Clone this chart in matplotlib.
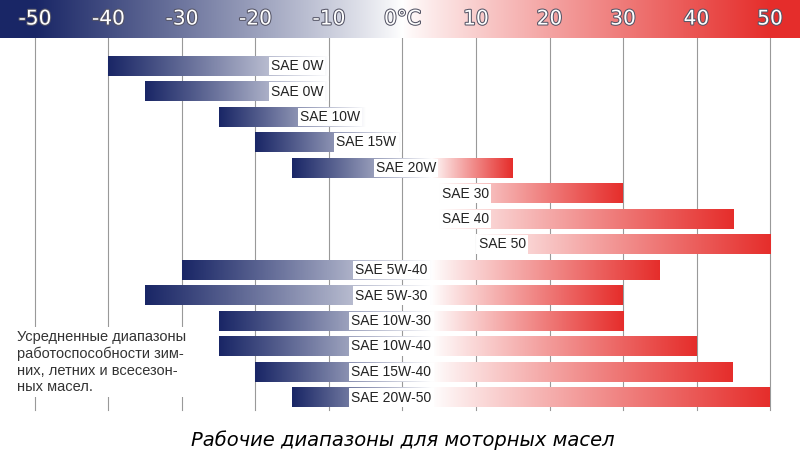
import numpy as np
import matplotlib
matplotlib.use("Agg")
import matplotlib.pyplot as plt
import matplotlib.patheffects as pe

ticks = [-50, -40, -30, -20, -10, 0, 10, 20, 30, 40, 50]
tick_labels = ["-50", "-40", "-30", "-20", "-10", "0°C", "10", "20", "30", "40", "50"]
oils = ["SAE 0W", "SAE 0W", "SAE 10W", "SAE 15W", "SAE 20W", "SAE 30", "SAE 40", "SAE 50",
        "SAE 5W-40", "SAE 5W-30", "SAE 10W-30", "SAE 10W-40", "SAE 15W-40", "SAE 20W-50"]
t_low = [-40, -35, -25, -20, -15, 5, 5, 10, -30, -35, -25, -25, -20, -15]
t_high = [-10, -10, -5, 0, 15, 30, 45, 50, 35, 30, 30, 40, 45, 50]
kind = ["w", "w", "w", "w", "m", "s", "s", "s", "m", "m", "m", "m", "m", "m"]
note = "Усредненные диапазоны\nработоспособности зим-\nних, летних и всесезон-\nных масел."
caption = "Рабочие диапазоны для моторных масел"

BLUE = np.array([0.10, 0.15, 0.40])
RED = np.array([0.90, 0.18, 0.17])
WHITE = np.array([1.0, 1.0, 1.0])

def colors_for(temps, lo, white, hi):
    out = []
    for t in temps:
        if t <= white:
            f = 0 if white == lo else (white - t) / (white - lo)
            out.append(WHITE + (BLUE - WHITE) * np.clip(f, 0, 1) ** 0.9)
        else:
            f = 0 if hi == white else (t - white) / (hi - white)
            out.append(WHITE + (RED - WHITE) * np.clip(f, 0, 1) ** 0.9)
    return np.array(out)

W, H = 800, 454
fig = plt.figure(figsize=(8, 4.54), dpi=100)
ax = fig.add_axes([0, 0, 1, 1])
ppd = 7.35
x0 = -50 - 35 / ppd
x1 = 50 + 30 / ppd
ax.set_xlim(x0, x1)
ax.set_ylim(H, 0)
ax.axis("off")

tt = np.linspace(x0, x1, 600)
hc = colors_for(tt, -50, 0, 50)
ax.imshow(hc[None, :, :], extent=[x0, x1, 38, 0], aspect="auto", zorder=1)
for t, lab in zip(ticks, tick_labels):
    ax.text(t, 19, lab, ha="center", va="center", fontsize=14.5, color="white",
            fontfamily="Liberation Sans Narrow", zorder=3,
            path_effects=[pe.withStroke(linewidth=1.5, foreground="#555566")])

for t in ticks:
    ax.plot([t, t], [38, 410], color="#999999", lw=0.8, zorder=0)

y0, dy, bh = 66, 25.5, 20
for i, (name, lo, hi, k) in enumerate(zip(oils, t_low, t_high, kind)):
    y = y0 + i * dy
    tb = np.linspace(lo, hi, 300)
    if k == "w":
        c = colors_for(tb, lo, hi, hi)
    elif k == "s":
        c = colors_for(tb, lo, lo, hi)
    else:
        c = colors_for(tb, lo, 4, hi)
    ax.imshow(c[None, :, :], extent=[lo, hi, y + bh / 2, y - bh / 2], aspect="auto", zorder=2)
    if k == "w":
        xt, ha = hi - 0.8, "right"
    elif k == "s":
        xt, ha = lo + 0.4, "left"
    elif name == "SAE 20W":
        xt, ha = 0.5, "center"
    else:
        xt, ha = -1.5, "center"
    ax.text(xt, y, name, ha=ha, va="center", fontsize=10, color="#222222",
            fontfamily="Liberation Sans", zorder=4,
            bbox=dict(boxstyle="square,pad=0.15", fc="white", ec="none"))

ax.text(-52.5, 362, note, ha="left", va="center", fontsize=10.5, color="#333333",
        fontfamily="Liberation Sans", linespacing=1.25, zorder=4,
        bbox=dict(boxstyle="square,pad=0.2", fc="white", ec="none"))
ax.text(0, 440, caption, ha="center", va="center", fontsize=14, style="italic",
        color="black", fontfamily="DejaVu Sans")

fig.savefig("out.png", dpi=100)
